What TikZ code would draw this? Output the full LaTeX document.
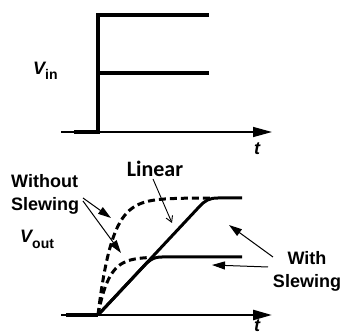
\documentclass[tikz,border=0pt]{standalone}
\usepackage{fontspec}
\setmainfont{Liberation Sans}
\newfontfamily\carlito{Carlito}
\usetikzlibrary{arrows.meta}
\tikzset{
  axisline/.style={line width=1.5pt,-{Triangle[length=19pt,width=10pt]}},
  steplines/.style={line width=4.5pt,line join=miter},
  solidcurve/.style={line width=3pt,line join=round},
  dashcurve/.style={line width=3pt,dash pattern=on 7pt off 4pt},
  pointer/.style={line width=1pt,-{Triangle[length=13pt,width=8pt]}},
  thinpointer/.style={line width=0.9pt,-{Straight Barb[length=6pt,width=7pt]}},
  lbl/.style={font=\bfseries\fontsize{18}{18}\selectfont,inner sep=0pt},
  tlbl/.style={font=\bfseries\itshape\fontsize{18}{18}\selectfont,inner sep=0pt},
}
\begin{document}
\begin{tikzpicture}[x=1pt,y=-1pt]
\useasboundingbox (0,0) rectangle (341,334);
% ---------- top plot ----------
\coordinate (ta0) at (61,132);
\coordinate (ta1) at (272,132);
\draw[axisline] (ta0) -- (ta1);
\draw[steplines] (74,132) -- (98,132) -- (98,15) -- (209,15);
\draw[steplines] (98,73) -- (209,73);
\node[tlbl,anchor=base] (t1) at (257,155) {t};
\node[lbl,anchor=base west] (vin) at (33,75) {\itshape V\raisebox{-5pt}{\upshape\fontsize{14}{14}\selectfont in}};
% ---------- bottom plot ----------
\coordinate (ba0) at (61,315);
\coordinate (ba1) at (272,315);
\draw[axisline,line width=2.5pt] (ba0) -- (ba1);
\draw[line width=3.5pt] (66,315) -- (98,315);
\node[tlbl,anchor=base] (t2) at (257,331.5) {t};
\node[lbl,anchor=base west] (vout) at (20,243) {\itshape V\raisebox{-6pt}{\upshape\fontsize{14}{14}\selectfont out}};
% curves
\draw[solidcurve] (98,315) -- (199,207) .. controls (205,200.5) and (209,198) .. (218,198) -- (242,198);
\draw[solidcurve] (98,315) -- (143,267) .. controls (148,261.5) and (152,257) .. (162,257) -- (242,257);
\draw[dashcurve] plot[domain=0:114,samples=80,smooth] ({98+\x},{315-117*(1-exp(-\x/14))});
\draw[dashcurve] plot[domain=0:52,samples=50,smooth] ({98+\x},{315-58*(1-exp(-\x/11))});
% labels
\node[font=\carlito\bfseries\fontsize{22}{22}\selectfont,inner sep=0pt,anchor=base] (lin) at (155,177) {Linear};
\coordinate (linS) at (153,179);
\coordinate (linE) at (172,223);
\draw[thinpointer] (linS) -- (linE);
\node[lbl,anchor=base west] (wo1) at (11,188) {Without};
\node[lbl,anchor=base west] (wo2) at (11,211) {Slewing};
\coordinate (woS1) at (83,198);
\coordinate (woE1) at (111,218);
\coordinate (woS2) at (83,201);
\coordinate (woE2) at (121,253);
\draw[pointer] (woS1) -- (woE1);
\draw[pointer] (woS2) -- (woE2);
\node[lbl,anchor=base] (w1) at (307,265) {With};
\node[lbl,anchor=base] (w2) at (307,288) {Slewing};
\coordinate (wS1) at (273,257);
\coordinate (wE1) at (229,225);
\coordinate (wS2) at (268,267);
\coordinate (wE2) at (212,265);
\draw[pointer] (wS1) -- (wE1);
\draw[pointer] (wS2) -- (wE2);
\end{tikzpicture}
\end{document}
